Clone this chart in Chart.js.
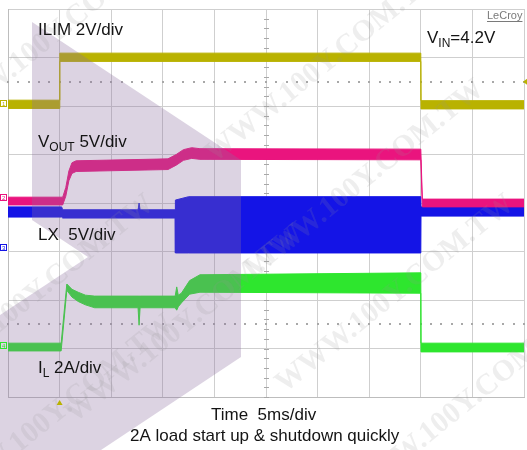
<!DOCTYPE html>
<html>
<head>
<meta charset="utf-8">
<script src="https://cdn.jsdelivr.net/npm/chart.js@4.4.1/dist/chart.umd.min.js"></script>
<style>
  html, body { margin: 0; padding: 0; background: #fff; }
  #wrap { width: 527px; height: 450px; }
</style>
</head>
<body>
<div id="wrap"><canvas id="scope" width="527" height="450"></canvas></div>
<script>
// time in ms (5 ms/div), values in screen divisions (0 = bottom, 8 = top)
// each trace is drawn as a noise band: upper and lower envelope
var ilimTime = [0, 5.0, 5.02, 40.0, 40.02, 50];
var ilimHigh = [6.12, 6.12, 7.09, 7.09, 6.11, 6.11];
var ilimLow = [5.95, 5.95, 6.92, 6.92, 5.94, 5.94];

var voutTime = [0, 5.3, 5.6, 5.9, 6.2, 6.6, 15.5, 16.3, 17.0, 17.8, 18.6, 40.0, 40.15, 50];
var voutHigh = [4.12, 4.12, 4.32, 4.66, 4.83, 4.87, 4.91, 5.0, 5.1, 5.14, 5.12, 5.11, 4.08, 4.08];
var voutLow = [3.96, 3.96, 4.14, 4.46, 4.61, 4.65, 4.69, 4.78, 4.88, 4.92, 4.9, 4.89, 3.92, 3.92];

var lxTime = [0, 5.2, 5.3, 12.6, 12.7, 12.8, 16.2, 16.22, 17.5, 40.0, 40.02, 50];
var lxHigh = [3.92, 3.92, 3.86, 3.86, 4.0, 3.86, 3.86, 4.06, 4.13, 4.13, 3.92, 3.92];
var lxLow = [3.71, 3.71, 3.69, 3.69, 3.69, 3.69, 3.69, 2.97, 2.97, 2.97, 3.73, 3.73];

var ilTime = [0, 5.15, 5.7, 6.2, 6.8, 7.5, 8.4, 12.6, 12.7, 12.8, 16.2, 16.35, 16.5, 16.8, 17.6, 18.6, 40.0, 40.02, 50];
var ilHigh = [1.11, 1.11, 2.33, 2.22, 2.16, 2.1, 2.08, 2.08, 2.08, 2.08, 2.08, 2.27, 2.1, 2.14, 2.4, 2.52, 2.56, 1.11, 1.11];
var ilLow = [0.95, 0.95, 2.2, 2.06, 1.97, 1.9, 1.84, 1.84, 1.48, 1.84, 1.84, 1.79, 1.86, 1.94, 2.12, 2.16, 2.14, 0.93, 0.93];

var timeMax = 50, timeStep = 5;
var divMax = 8;
var dottedLevels = [1.5, 6.5];

function pts(t, v) {
  return t.map(function (x, i) { return { x: x, y: v[i] }; });
}

function band(label, t, hi, lo, color) {
  return [
    { label: label + " max", data: pts(t, hi), borderColor: color, backgroundColor: color,
      borderWidth: 1, pointRadius: 0, fill: false },
    { label: label + " min", data: pts(t, lo), borderColor: color, backgroundColor: color,
      borderWidth: 1, pointRadius: 0, fill: "-1" }
  ];
}

var OLIVE = "#b9b200", PINK = "#ea147e", BLUE = "#1414e6", GREEN = "#2ee62e";

var datasets = []
  .concat(band("ILIM", ilimTime, ilimHigh, ilimLow, OLIVE))
  .concat(band("VOUT", voutTime, voutHigh, voutLow, PINK))
  .concat(band("LX", lxTime, lxHigh, lxLow, BLUE))
  .concat(band("IL", ilTime, ilHigh, ilLow, GREEN));

var FONT = '"Liberation Sans", Arial, sans-serif';

function subText(ctx, x, y, main, sub, rest) {
  ctx.font = "17px " + FONT;
  ctx.fillText(main, x, y);
  var w = ctx.measureText(main).width;
  ctx.font = "12px " + FONT;
  ctx.fillText(sub, x + w, y + 4);
  var w2 = ctx.measureText(sub).width;
  ctx.font = "17px " + FONT;
  ctx.fillText(rest, x + w + w2, y);
}

// scope graticule extras: dotted levels and centre ticks
var graticule = {
  id: "graticule",
  beforeDatasetsDraw: function (chart) {
    var ctx = chart.ctx, xs = chart.scales.x, ys = chart.scales.y;
    ctx.save();
    ctx.fillStyle = "#a8a8a8";
    dottedLevels.forEach(function (lv) {
      var py = Math.round(ys.getPixelForValue(lv));
      for (var t = 0; t <= timeMax; t += timeStep / 5) {
        ctx.fillRect(Math.round(xs.getPixelForValue(t)) - 1, py - 1, 2, 2);
      }
    });
    var cx = Math.round(xs.getPixelForValue(timeMax / 2));
    for (var d = 0; d <= divMax; d += 0.2) {
      ctx.fillRect(cx - 2, Math.round(ys.getPixelForValue(d)), 5, 1);
    }
    ctx.restore();
  }
};

var overlay = {
  id: "overlay",
  afterDatasetsDraw: function (chart) {
    var ctx = chart.ctx;
    ctx.save();
    // translucent arrow shape over the left side
    ctx.fillStyle = "rgba(140, 110, 160, 0.3)";
    ctx.beginPath();
    ctx.moveTo(32, 22);
    ctx.lineTo(241, 160);
    ctx.lineTo(241, 357);
    ctx.lineTo(101, 450);
    ctx.lineTo(0, 450);
    ctx.lineTo(0, 315);
    ctx.lineTo(88, 257);
    ctx.lineTo(32, 220);
    ctx.closePath();
    ctx.fill();
    ctx.restore();
  },
  afterDraw: function (chart) {
    var ctx = chart.ctx, xs = chart.scales.x, ys = chart.scales.y;
    ctx.save();
    ctx.fillStyle = "#141414";
    ctx.textBaseline = "alphabetic";
    ctx.font = "17px " + FONT;
    ctx.fillText("ILIM 2V/div", 38, 35);
    subText(ctx, 38, 147, "V", "OUT", " 5V/div");
    ctx.font = "17px " + FONT;
    ctx.fillText("LX  5V/div", 38, 240);
    subText(ctx, 38, 373, "I", "L", " 2A/div");
    subText(ctx, 427, 43, "V", "IN", "=4.2V");
    ctx.font = "17px " + FONT;
    ctx.fillText("Time  5ms/div", 211, 420);
    ctx.fillText("2A load start up & shutdown quickly", 130, 441);

    // LeCroy mark
    ctx.fillStyle = "#7a7a7a";
    ctx.font = "11px " + FONT;
    ctx.fillText("LeCroy", 487, 19);
    ctx.fillRect(487, 21, ctx.measureText("LeCroy").width, 1);

    // channel markers on the left edge
    var marks = [[6.04, OLIVE, "1"], [4.1, PINK, "2"], [3.08, BLUE, "3"], [1.05, GREEN, "4"]];
    ctx.font = "6px " + FONT;
    marks.forEach(function (m) {
      var py = Math.round(ys.getPixelForValue(m[0]));
      ctx.strokeStyle = m[1];
      ctx.fillStyle = m[1];
      ctx.lineWidth = 1;
      ctx.strokeRect(0.5, py - 3.5, 6, 6);
      ctx.fillText(m[2], 2, py + 2);
    });

    // trigger position and level
    ctx.fillStyle = OLIVE;
    var tx = xs.getPixelForValue(timeStep);
    ctx.beginPath();
    ctx.moveTo(tx - 3, 405);
    ctx.lineTo(tx + 3, 405);
    ctx.lineTo(tx, 400);
    ctx.fill();
    var ty = ys.getPixelForValue(6.5);
    ctx.beginPath();
    ctx.moveTo(527, ty - 3);
    ctx.lineTo(527, ty + 3);
    ctx.lineTo(523, ty);
    ctx.fill();

    // faint site watermark
    ctx.fillStyle = "rgba(150, 150, 150, 0.16)";
    ctx.font = "bold 30px 'Liberation Serif', serif";
    ctx.textAlign = "center";
    var wm = [[330, 70], [370, 185], [400, 300], [470, 410], [60, 40], [40, 300], [60, 420], [190, 330]];
    wm.forEach(function (p) {
      ctx.save();
      ctx.translate(p[0], p[1]);
      ctx.rotate(-0.68);
      ctx.fillText("WWW.100Y.COM.TW", 0, 0);
      ctx.restore();
    });
    ctx.restore();
  }
};

new Chart(document.getElementById("scope"), {
  type: "line",
  data: { datasets: datasets },
  options: {
    responsive: false,
    animation: false,
    layout: { padding: { left: 8, top: 9, right: 3, bottom: 53 } },
    plugins: {
      legend: { display: false },
      tooltip: { enabled: false },
    },
    elements: { line: { tension: 0 } },
    scales: {
      x: {
        type: "linear",
        min: 0,
        max: timeMax,
        ticks: { display: false, stepSize: timeStep },
        grid: { color: "#cfcfcf", drawTicks: false },
        border: { color: "#bdbdbd" },
      },
      y: {
        min: 0,
        max: divMax,
        ticks: { display: false, stepSize: 1 },
        grid: { color: "#cfcfcf", drawTicks: false },
        border: { color: "#bdbdbd" },
      },
    },
  },
  plugins: [graticule, overlay],
});
</script>
</body>
</html>
